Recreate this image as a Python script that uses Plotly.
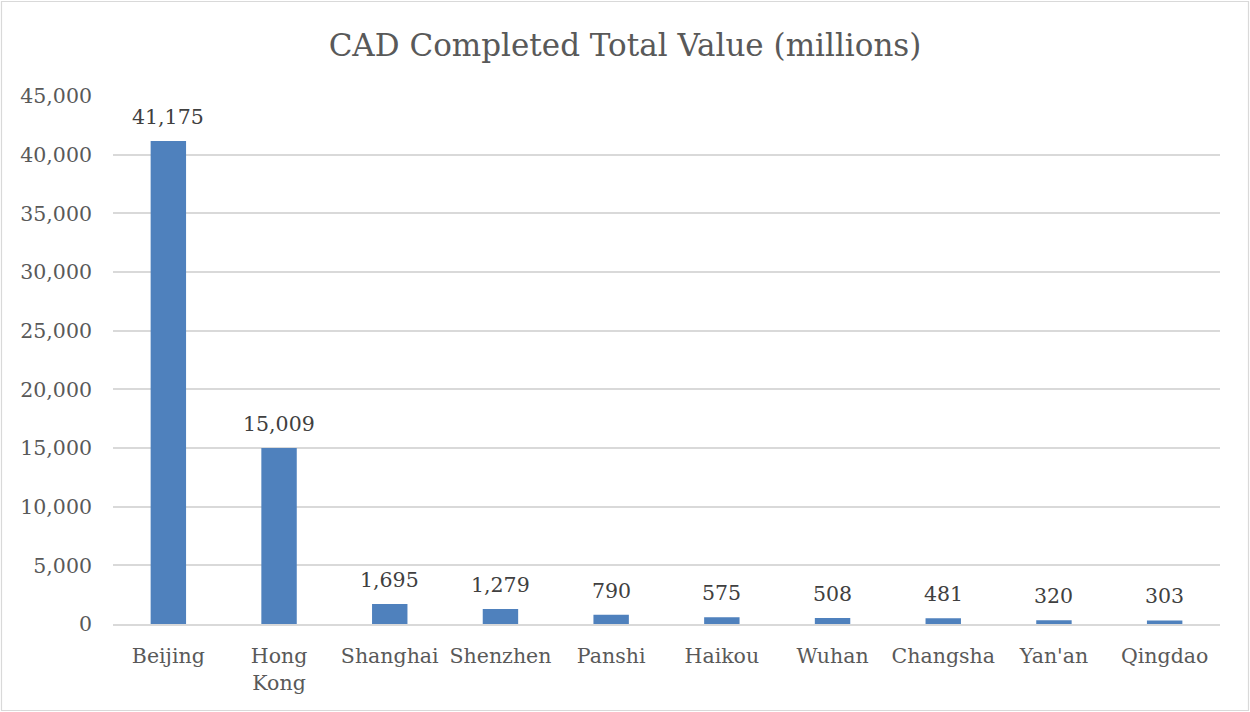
import plotly.graph_objects as go

cities = ["Beijing", "Hong<br>Kong", "Shanghai", "Shenzhen", "Panshi", "Haikou",
          "Wuhan", "Changsha", "Yan'an", "Qingdao"]
values = [41175, 15009, 1695, 1279, 790, 575, 508, 481, 320, 303]
y_ticks = [0, 5000, 10000, 15000, 20000, 25000, 30000, 35000, 40000, 45000]

W, H = 1250, 712
ml, mr, mt, mb = 113, 30, 96, 88
FONT = "DejaVu Serif"
GRAY = "#595959"
FS = 20.5

fig = go.Figure(go.Bar(
    x=cities, y=values,
    marker=dict(color="#4F81BD", line=dict(width=0)),
    width=0.32,
    hoverinfo="x+y",
))

for c, v in zip(cities, values):
    fig.add_annotation(x=c, y=v, text=f"{v:,}", showarrow=False,
                       xanchor="center", yanchor="bottom", yshift=10,
                       font=dict(family=FONT, size=FS, color="#404040"))

pw, ph = W - ml - mr, H - mt - mb
fig.add_shape(type="rect", xref="paper", yref="paper",
              x0=-(ml - 1.5) / pw, x1=1 + (mr - 1.5) / pw,
              y0=-(mb - 1.5) / ph, y1=1 + (mt - 1.5) / ph,
              line=dict(color="#D9D9D9", width=1.2), layer="below")

fig.update_layout(
    width=W, height=H,
    margin=dict(l=ml, r=mr, t=mt, b=mb, autoexpand=False),
    paper_bgcolor="white", plot_bgcolor="white",
    title=dict(text="CAD Completed Total Value (millions)", x=0.5, xanchor="center",
               y=1 - 45 / H, yanchor="middle",
               font=dict(family=FONT, size=31, color=GRAY)),
    showlegend=False,
    xaxis=dict(tickfont=dict(family=FONT, size=FS, color=GRAY),
               showline=True, linecolor="#D9D9D9", linewidth=1.5,
               ticks="", ticklabelstandoff=13, automargin=False),
    yaxis=dict(range=[0, 45000], tickvals=y_ticks, tickformat=",",
               tickfont=dict(family=FONT, size=FS, color=GRAY),
               showgrid=True, gridcolor="#D9D9D9", gridwidth=1.5,
               zeroline=False, showline=False, ticks="",
               ticklabelstandoff=20, automargin=False),
)

fig.write_html("out.html", config={"displayModeBar": False},
               post_script="document.body.style.margin='0';")
